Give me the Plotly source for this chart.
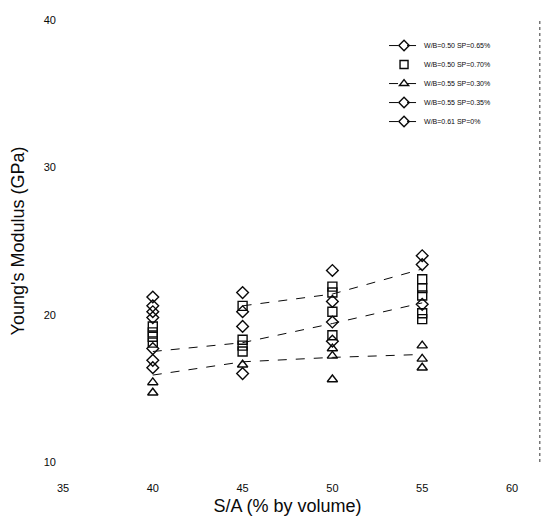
import plotly.graph_objects as go

# ---- data ----
SA = [40, 45, 50, 55]

s1_x = [40, 40, 45, 45, 50, 50, 55, 55]
s1_y = [21.2, 20.6, 21.5, 20.2, 23.0, 20.9, 24.0, 23.4]
s1_line = [None, 20.6, 21.4, 23.1]

s2_x = [40, 40, 40, 40, 45, 45, 45, 45, 50, 50, 50, 50, 55, 55, 55, 55, 55]
s2_y = [19.2, 18.8, 18.5, 18.1, 20.6, 18.3, 17.9, 17.5, 21.9, 21.5, 20.2, 18.6,
        22.4, 21.8, 21.3, 20.1, 19.7]

s3_x = [40, 40, 45, 50, 50, 50, 55, 55, 55]
s3_y = [15.4, 14.7, 16.6, 17.7, 17.2, 15.6, 17.9, 17.0, 16.4]
s3_line = [15.9, 16.8, 17.1, 17.3]

s4_x = [40, 40, 40, 45, 50, 55]
s4_y = [17.7, 16.9, 16.4, 16.0, 18.2, 20.7]
s4_line = [17.5, 18.1, 19.4, 20.8]

s5_x = [40, 40, 45, 50]
s5_y = [20.2, 19.8, 19.2, 19.5]

names = ["W/B=0.50 SP=0.65%", "W/B=0.50 SP=0.70%", "W/B=0.55 SP=0.30%",
         "W/B=0.55 SP=0.35%", "W/B=0.61 SP=0%"]
symbols = ["diamond-open", "square-open", "triangle-up-open", "diamond-open", "diamond-open"]
legend_modes = ["lines+markers", "markers", "lines+markers", "lines+markers", "lines+markers"]

x_ticks = [35, 40, 45, 50, 55, 60]
y_ticks = [10, 20, 30, 40]

INK = "#0a0a0a"


def mk(s, size=9):
    return dict(symbol=s, size=size, color=INK, line=dict(width=1.4, color=INK))


fig = go.Figure()

# legend entries
for n, s, m in zip(names, symbols, legend_modes):
    fig.add_trace(go.Scatter(x=[None], y=[None], name=n, mode=m, marker=mk(s, 8),
                             line=dict(color=INK, width=1, dash="dash")))

# mean lines
for ly in [s1_line, s3_line, s4_line]:
    fig.add_trace(go.Scatter(x=SA, y=ly, mode="lines", showlegend=False,
                             line=dict(color=INK, width=1, dash="dash"),
                             connectgaps=False, hoverinfo="skip"))

# replicate points
for xs, ys, s in [(s1_x, s1_y, symbols[0]), (s2_x, s2_y, symbols[1]),
                  (s3_x, s3_y, symbols[2]), (s4_x, s4_y, symbols[3]),
                  (s5_x, s5_y, symbols[4])]:
    fig.add_trace(go.Scatter(x=xs, y=ys, mode="markers", showlegend=False,
                             marker=mk(s)))

FONT = "Liberation Sans, Arial, sans-serif"
fig.update_layout(
    width=546, height=525,
    margin=dict(l=63, r=34, t=20, b=63),
    paper_bgcolor="white", plot_bgcolor="white",
    font=dict(family=FONT, color=INK),
    showlegend=True,
    legend=dict(x=0.715, y=0.975, xanchor="left", yanchor="top",
                font=dict(size=7, color=INK), bgcolor="rgba(0,0,0,0)"),
    xaxis=dict(range=[35, 60], tickvals=x_ticks, ticks="", showgrid=False,
               zeroline=False, showline=False, tickfont=dict(size=11, color=INK),
               ticklabelstandoff=18,
               title=dict(text="S/A (% by volume)", font=dict(size=18, color=INK),
                          standoff=6)),
    yaxis=dict(range=[10, 40], tickvals=y_ticks, ticks="", showgrid=False,
               zeroline=False, showline=False, tickfont=dict(size=11, color=INK),
               ticklabelstandoff=6,
               title=dict(text="Young's Modulus (GPa)", font=dict(size=18, color=INK),
                          standoff=14)),
)

# faint right-hand frame edge of the original scan
fig.add_shape(type="line", xref="paper", yref="paper", x0=1.062, x1=1.062, y0=0, y1=1,
              line=dict(color="#333333", width=1, dash="dot"))

fig.write_html("out.html")
